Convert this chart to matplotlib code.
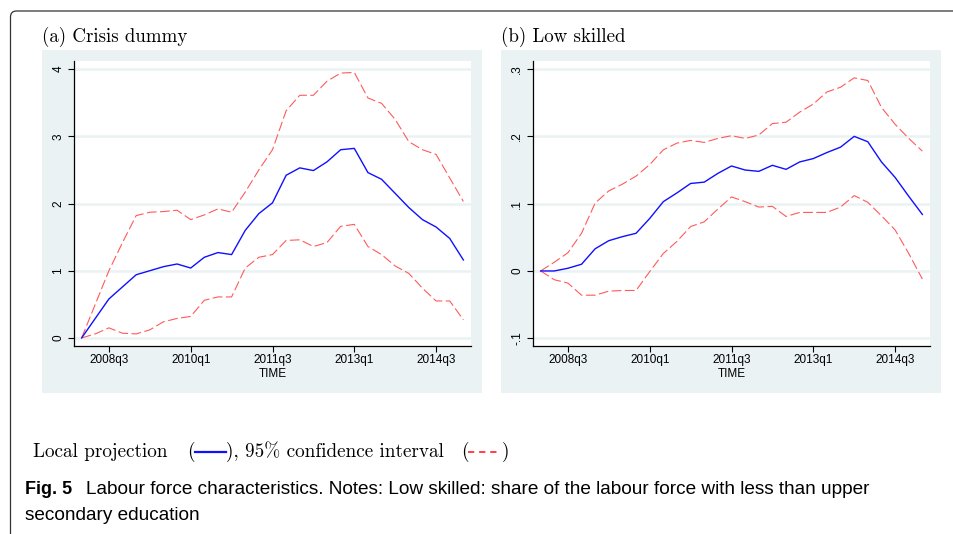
import matplotlib
matplotlib.use('Agg')
import matplotlib.pyplot as plt
from matplotlib.lines import Line2D
from matplotlib.patches import FancyBboxPatch, Rectangle
from matplotlib.transforms import IdentityTransform

plt.rcParams['font.family'] = ['Liberation Sans', 'DejaVu Sans']
plt.rcParams['lines.scale_dashes'] = False

quarters = ['2008q1', '2008q2', '2008q3', '2008q4', '2009q1', '2009q2', '2009q3', '2009q4',
            '2010q1', '2010q2', '2010q3', '2010q4', '2011q1', '2011q2', '2011q3', '2011q4',
            '2012q1', '2012q2', '2012q3', '2012q4', '2013q1', '2013q2', '2013q3', '2013q4',
            '2014q1', '2014q2', '2014q3', '2014q4', '2015q1']
tick_quarters = ['2008q3', '2010q1', '2011q3', '2013q1', '2014q3']

# (a) crisis dummy
crisis_lp = [0, 0.29, 0.58, 0.76, 0.94, 1.00, 1.06, 1.10, 1.04, 1.20, 1.27, 1.24, 1.60, 1.85, 2.01,
             2.42, 2.53, 2.49, 2.62, 2.80, 2.82, 2.46, 2.36, 2.15, 1.94, 1.76, 1.65, 1.48, 1.16]
crisis_hi = [0, 0.50, 1.00, 1.42, 1.82, 1.87, 1.88, 1.90, 1.76, 1.83, 1.92, 1.87, 2.17, 2.50, 2.80,
             3.38, 3.61, 3.61, 3.82, 3.94, 3.95, 3.57, 3.49, 3.25, 2.92, 2.80, 2.73, 2.38, 2.03]
crisis_lo = [0, 0.06, 0.15, 0.07, 0.06, 0.12, 0.24, 0.29, 0.32, 0.56, 0.61, 0.61, 1.04, 1.20, 1.24,
             1.45, 1.46, 1.36, 1.42, 1.66, 1.69, 1.36, 1.24, 1.07, 0.96, 0.74, 0.55, 0.55, 0.27]
crisis_yticks = [0, 1, 2, 3, 4]
crisis_ylabels = ['0', '1', '2', '3', '4']

# (b) low skilled
low_lp = [0, 0.0, 0.004, 0.010, 0.033, 0.045, 0.051, 0.056, 0.078, 0.103, 0.116, 0.130, 0.132, 0.145,
          0.156, 0.150, 0.148, 0.157, 0.151, 0.162, 0.167, 0.176, 0.184, 0.200, 0.192, 0.162, 0.139,
          0.111, 0.084]
low_hi = [0, 0.013, 0.027, 0.056, 0.101, 0.119, 0.129, 0.141, 0.158, 0.180, 0.190, 0.194, 0.191, 0.197,
          0.201, 0.197, 0.202, 0.219, 0.221, 0.236, 0.248, 0.266, 0.273, 0.287, 0.283, 0.243, 0.218,
          0.197, 0.178]
low_lo = [0, -0.013, -0.018, -0.036, -0.036, -0.030, -0.029, -0.029, -0.001, 0.026, 0.044, 0.066, 0.073,
          0.092, 0.110, 0.103, 0.095, 0.096, 0.081, 0.087, 0.087, 0.087, 0.095, 0.112, 0.102, 0.082,
          0.061, 0.026, -0.012]
low_yticks = [-0.1, 0, 0.1, 0.2, 0.3]
low_ylabels = ['-.1', '0', '.1', '.2', '.3']

W, H = 954, 534
bg = '#eaf2f3'
serif = ['cmr10', 'DejaVu Serif']


def px(x0, y0, x1, y1):
    # pixel box (top-left origin) -> figure fraction rect
    return [x0 / W, 1 - y1 / H, (x1 - x0) / W, (y1 - y0) / H]


fig = plt.figure(figsize=(W / 100, H / 100), dpi=100)

# page frame with rounded corner
fig.patches.append(FancyBboxPatch((10.5, -50), 1000, 534 - 11 + 50, boxstyle='round,pad=0,rounding_size=6',
                                  transform=IdentityTransform(), fill=False, ec='#333333', lw=0.9,
                                  zorder=-2))


def panel(bg_box, ax_box, title, lp, hi, lo, yticks, ylabels, ylim):
    fig.patches.append(Rectangle(bg_box[:2], bg_box[2], bg_box[3], transform=fig.transFigure,
                                 fc=bg, ec='none', zorder=-1))
    ax = fig.add_axes(ax_box, zorder=1)
    x = list(range(len(quarters)))
    ax.plot(x, hi, color='#ff5a5a', lw=0.8, dashes=(7, 2.5))
    ax.plot(x, lo, color='#ff5a5a', lw=0.8, dashes=(7, 2.5))
    ax.plot(x, lp, color='#1010ff', lw=1.0)
    ax.set_xlim(-0.56, len(quarters) - 1 + 0.56)
    ax.set_ylim(*ylim)
    ax.set_xticks([quarters.index(q) for q in tick_quarters])
    ax.set_xticklabels(tick_quarters)
    ax.set_yticks(yticks)
    ax.set_yticklabels(ylabels)
    ax.tick_params(axis='y', labelrotation=90, length=4, width=0.8, pad=3, labelsize=8.5)
    ax.tick_params(axis='x', length=4, width=0.8, pad=1.5, labelsize=8.5)
    for lab in ax.get_yticklabels():
        lab.set_va('center')
    ax.yaxis.grid(True, color=bg, lw=1.8)
    ax.set_axisbelow(True)
    ax.spines['top'].set_visible(False)
    ax.spines['right'].set_visible(False)
    ax.spines['left'].set_linewidth(0.9)
    ax.spines['bottom'].set_linewidth(0.9)
    ax.set_xlabel('TIME', fontsize=8.5, labelpad=1.5)
    fig.text(bg_box[0] - 0.0005, 1 - 37 / H, title, family=serif, fontsize=13.6, va='center', ha='left')
    return ax


panel(px(42, 50, 482, 393), px(74, 61, 471, 346), '(a) Crisis dummy',
      crisis_lp, crisis_hi, crisis_lo, crisis_yticks, crisis_ylabels, (-0.12, 4.12))
panel(px(501, 50, 941, 393), px(533, 61, 930, 346), '(b) Low skilled',
      low_lp, low_hi, low_lo, low_yticks, low_ylabels, (-0.1115, 0.312))

# legend line under the panels
ly = 1 - 452 / H
fs = 13.8
fig.text(33 / W, ly, 'Local projection', family=serif, fontsize=fs, va='center')
fig.text(187 / W, ly, '(', family=serif, fontsize=fs, va='center')
fig.add_artist(Line2D([195 / W, 226 / W], [ly, ly], color='#1010ff', lw=1.6, transform=fig.transFigure))
fig.text(226 / W, ly, '), 95% confidence interval', family=serif, fontsize=fs, va='center')
fig.text(461 / W, ly, '(', family=serif, fontsize=fs, va='center')
fig.add_artist(Line2D([468 / W, 500 / W], [ly, ly], color='#ff2020', lw=1.2, dashes=(4.5, 3.5),
                      transform=fig.transFigure))
fig.text(502 / W, ly, ')', family=serif, fontsize=fs, va='center')

# caption
fig.text(25 / W, 1 - 489 / H, 'Fig. 5', fontsize=13, fontweight='bold', va='center')
fig.text(86 / W, 1 - 489 / H,
         'Labour force characteristics. Notes: Low skilled: share of the labour force with less than upper',
         fontsize=13.65, va='center')
fig.text(25 / W, 1 - 515 / H, 'secondary education', fontsize=13.65, va='center')

fig.savefig('out.png', dpi=100)
